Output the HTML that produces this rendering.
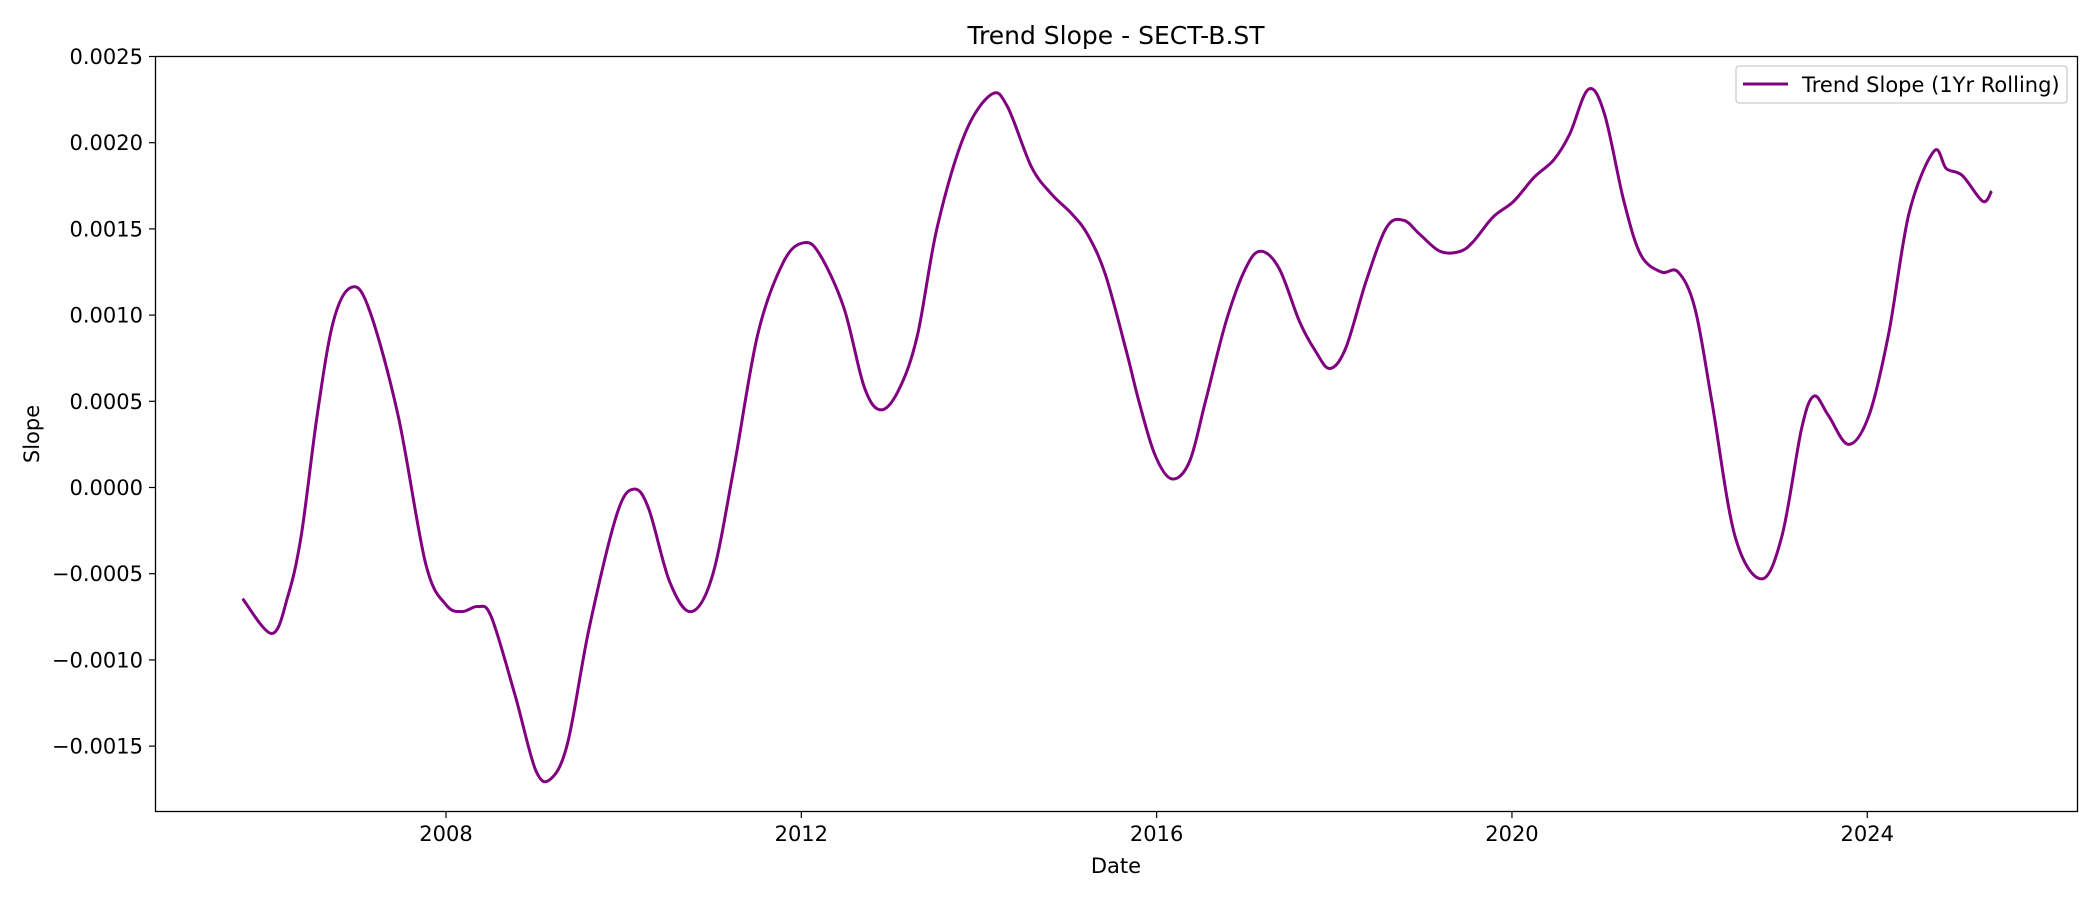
<!DOCTYPE html>
<html><head><meta charset="utf-8"><style>
body{margin:0;background:#fff;}
svg text{font-family:"DejaVu Sans","Liberation Sans",sans-serif;fill:#000;}
</style></head><body>
<svg id="chart" width="2100" height="900" xmlns="http://www.w3.org/2000/svg">
<rect x="0" y="0" width="2100" height="900" fill="#fff"/>
<path id="series" fill="none" stroke="#800080" stroke-width="3" stroke-linejoin="round"/>
<rect x="155.5" y="56.5" width="1922" height="755" fill="none" stroke="#000" stroke-width="1.3"/>
<g id="ticks"></g>
<text x="1116" y="44" font-size="25" text-anchor="middle">Trend Slope - SECT-B.ST</text>
<text x="1116" y="873" font-size="21" text-anchor="middle">Date</text>
<text x="39" y="434" font-size="21" text-anchor="middle" transform="rotate(-90 39 434)">Slope</text>
<g>
<rect x="1736" y="66" width="331" height="37" rx="3" fill="#fff" stroke="#ccc" stroke-width="1.3"/>
<line x1="1743" y1="84" x2="1788" y2="84" stroke="#800080" stroke-width="3"/>
<text x="1802" y="92" font-size="21">Trend Slope (1Yr Rolling)</text>
</g>
</svg>
<script>
const years=[2005.71,2006.04,2006.22,2006.37,2006.55,2006.73,2006.93,2007.13,2007.46,2007.77,2008.0,2008.18,2008.36,2008.51,2008.78,2009.01,2009.18,2009.37,2009.61,2009.92,2010.11,2010.28,2010.52,2010.76,2011.0,2011.24,2011.51,2011.80,2012.03,2012.21,2012.48,2012.71,2012.90,2013.11,2013.31,2013.53,2013.84,2014.14,2014.32,2014.59,2014.82,2015.04,2015.22,2015.42,2015.65,2015.80,2015.98,2016.17,2016.37,2016.55,2016.78,2017.0,2017.17,2017.38,2017.61,2017.79,2017.95,2018.13,2018.36,2018.59,2018.78,2018.96,2019.19,2019.42,2019.57,2019.79,2020.02,2020.25,2020.47,2020.65,2020.86,2021.04,2021.26,2021.45,2021.68,2021.87,2022.06,2022.25,2022.51,2022.81,2023.04,2023.26,2023.40,2023.56,2023.79,2024.02,2024.24,2024.47,2024.75,2024.89,2025.07,2025.30,2025.40];
const slopes=[-0.000645,-0.000847,-0.00063,-0.00028,0.00042,0.00096,0.00116,0.00104,0.00042,-0.00044,-0.00068,-0.00072,-0.00069,-0.00075,-0.00121,-0.00164,-0.00169,-0.00148,-0.00082,-0.00016,-0.00001,-0.00012,-0.00055,-0.00072,-0.00051,0.00011,0.00089,0.00131,0.00142,0.00135,0.00104,0.00058,0.00045,0.00058,0.00089,0.00151,0.00205,0.00228,0.00221,0.00186,0.0017,0.00159,0.00147,0.00124,0.00081,0.0005,0.00019,0.00005,0.00015,0.0005,0.00096,0.00127,0.00137,0.00127,0.00096,0.00079,0.00069,0.00081,0.0012,0.00151,0.00155,0.00147,0.00137,0.00137,0.00143,0.00157,0.00166,0.0018,0.0019,0.00205,0.00231,0.00217,0.00166,0.00135,0.00125,0.00125,0.00104,0.0005,-0.00028,-0.00053,-0.00028,0.00034,0.00053,0.00042,0.00025,0.00042,0.00089,0.00159,0.00195,0.00185,0.00181,0.00166,0.00172];
const xTicks=[2008,2012,2016,2020,2024];
const yTicks=[-0.0015,-0.001,-0.0005,0,0.0005,0.001,0.0015,0.002,0.0025];
const yTickLabels=["\u22120.0015","\u22120.0010","\u22120.0005","0.0000","0.0005","0.0010","0.0015","0.0020","0.0025"];
const xs=v=>446+(v-2008)*88.83;
const ys=v=>487.5-v*172400;
const NS='http://www.w3.org/2000/svg';
const pts=years.map((y,i)=>[xs(y),ys(slopes[i])]);
let d='M'+pts[0][0].toFixed(1)+','+pts[0][1].toFixed(1);
for(let i=0;i<pts.length-1;i++){
 const p0=pts[Math.max(0,i-1)],p1=pts[i],p2=pts[i+1],p3=pts[Math.min(pts.length-1,i+2)];
 const c1=[p1[0]+(p2[0]-p0[0])/6,p1[1]+(p2[1]-p0[1])/6];
 const c2=[p2[0]-(p3[0]-p1[0])/6,p2[1]-(p3[1]-p1[1])/6];
 d+=' C'+c1[0].toFixed(1)+','+c1[1].toFixed(1)+' '+c2[0].toFixed(1)+','+c2[1].toFixed(1)+' '+p2[0].toFixed(1)+','+p2[1].toFixed(1);
}
document.getElementById('series').setAttribute('d',d);
const tg=document.getElementById('ticks');
xTicks.forEach(t=>{
 const x=xs(t);
 const l=document.createElementNS(NS,'line');
 
 
 l.setAttribute('x1',x);l.setAttribute('x2',x);l.setAttribute('y1',812);l.setAttribute('y2',818);l.setAttribute('stroke','#000');l.setAttribute('stroke-width','1.2');
 tg.appendChild(l);
 const tx=document.createElementNS(NS,'text');
 
 
 tx.setAttribute('x',x);tx.setAttribute('y',841);tx.setAttribute('font-size','21');tx.setAttribute('text-anchor','middle');
 tx.textContent=String(t);tg.appendChild(tx);
});
yTicks.forEach((t,i)=>{
 const y=ys(t);
 const l=document.createElementNS(NS,'line');
 
 
 l.setAttribute('x1',149);l.setAttribute('x2',155);l.setAttribute('y1',y);l.setAttribute('y2',y);l.setAttribute('stroke','#000');l.setAttribute('stroke-width','1.2');
 tg.appendChild(l);
 const tx=document.createElementNS(NS,'text');
 
 
 tx.setAttribute('x',143);tx.setAttribute('y',y+7.5);tx.setAttribute('font-size','21');tx.setAttribute('text-anchor','end');
 tx.textContent=yTickLabels[i];tg.appendChild(tx);
});
</script>
</body></html>
